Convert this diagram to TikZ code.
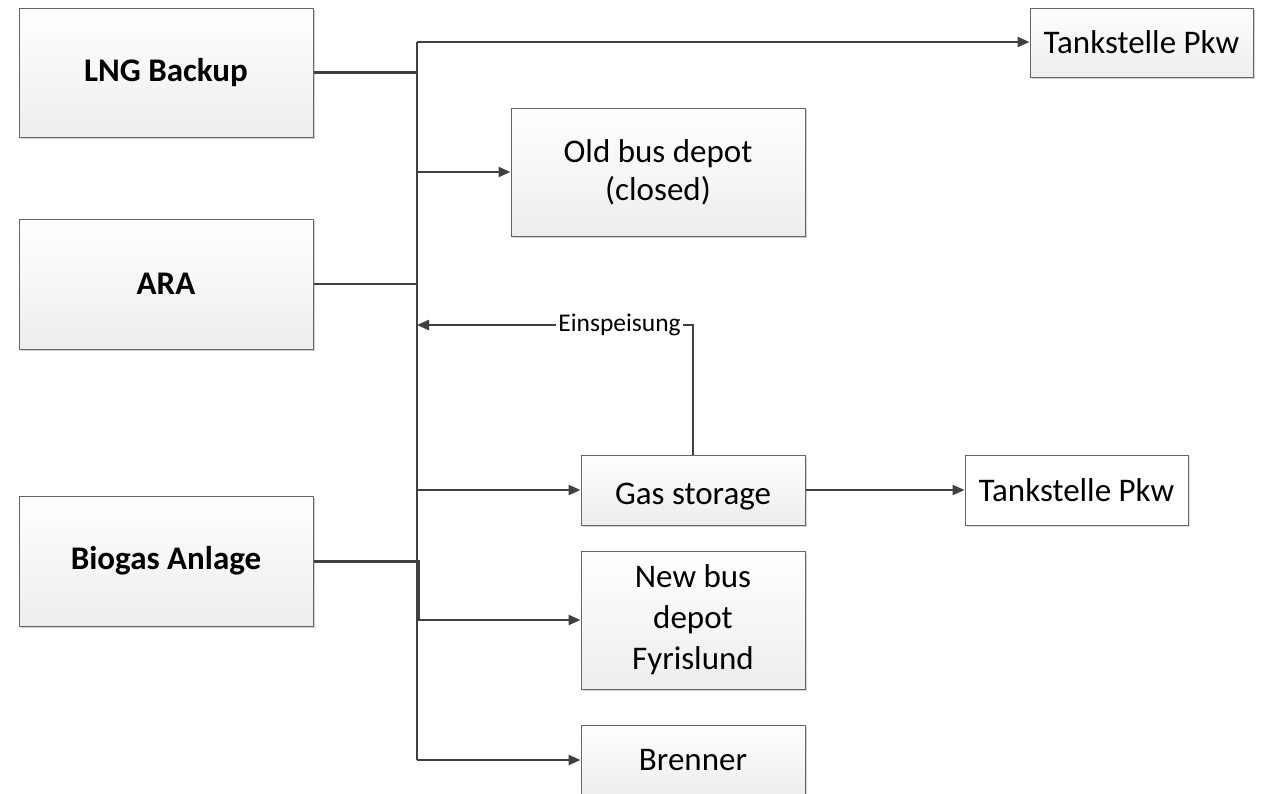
\documentclass[tikz,border=0pt]{standalone}
\usepackage{fontspec}
\setmainfont{Carlito}
\usetikzlibrary{arrows.meta,shadows}
\begin{document}
\begin{tikzpicture}[x=1pt,y=-1pt,
  conn/.style={draw=black!75, line width=2.2pt},
  arr/.style={conn, -{Triangle[length=12pt,width=10pt]}},
  box/.style={draw=black!60, line width=1pt, top color=white, bottom color=black!7,
    drop shadow={shadow xshift=2pt, shadow yshift=-2pt, opacity=0.3, fill=black!60},
    inner sep=0pt, align=center, font=\fontsize{33}{40}\selectfont},
  plainbox/.style={draw=black!60, line width=1pt, fill=white,
    drop shadow={shadow xshift=2pt, shadow yshift=-2pt, opacity=0.2, fill=black!60},
    inner sep=0pt, align=center, font=\fontsize{33}{40}\selectfont},
  lbl/.style={fill=white, inner sep=2pt, font=\fontsize{25.5}{30}\selectfont}
]
\clip (0,0) rectangle (1264,793);
\fill[white] (0,0) rectangle (1264,793);

\node[box, minimum width=294pt, minimum height=129pt, font=\fontsize{33}{40}\selectfont\bfseries] (lng) at (166,72.5) {LNG Backup};
\node[box, minimum width=294pt, minimum height=130pt, font=\fontsize{33}{40}\selectfont\bfseries] (ara) at (166,284) {ARA};
\node[box, minimum width=294pt, minimum height=130pt, font=\fontsize{33}{40}\selectfont\bfseries] (bio) at (166,561) {Biogas Anlage};

\node[box, minimum width=223pt, minimum height=69pt] (tk1) at (1141.5,42.5) {Tankstelle Pkw};
\node[box, minimum width=294pt, minimum height=128pt, font=\fontsize{33}{38}\selectfont] (old) at (658,172) {Old bus depot\\(closed)};
\node[box, minimum width=224pt, minimum height=70pt, text height=30pt, text depth=2pt] (gas) at (693,490) {Gas storage};
\node[plainbox, minimum width=223pt, minimum height=70pt] (tk2) at (1076.5,490) {Tankstelle Pkw};
\node[box, minimum width=224pt, minimum height=138pt, font=\fontsize{33}{41}\selectfont] (new) at (693,620) {New bus\\depot\\Fyrislund};
\node[box, minimum width=224pt, minimum height=70pt] (bren) at (693,760) {Brenner};

\coordinate (top) at (417,42);
\coordinate (bot) at (417,760);
\coordinate (ein) at (417,325);

\draw[conn] (top) -- (bot);
\draw[arr] (top) -- (tk1.west |- top);
\draw[conn] (lng.east) -- (lng.east -| top);
\draw[conn] (ara.east) -- (ara.east -| top);
\draw[conn, line width=3pt] (bio.east) -- ([xshift=1pt]bio.east -| top) -- ([xshift=1pt]new.west -| top);

\draw[arr] (old.west -| top) -- (old.west);
\draw[arr] (gas.west -| top) -- (gas.west);
\draw[arr] (new.west -| top) -- (new.west);
\draw[arr] (bren.west -| top) -- (bren.west);
\draw[arr] (gas.east) -- (tk2.west);

\draw[arr] (gas.north) |- node[lbl, pos=0.633] {Einspeisung} (ein);
\end{tikzpicture}
\end{document}
